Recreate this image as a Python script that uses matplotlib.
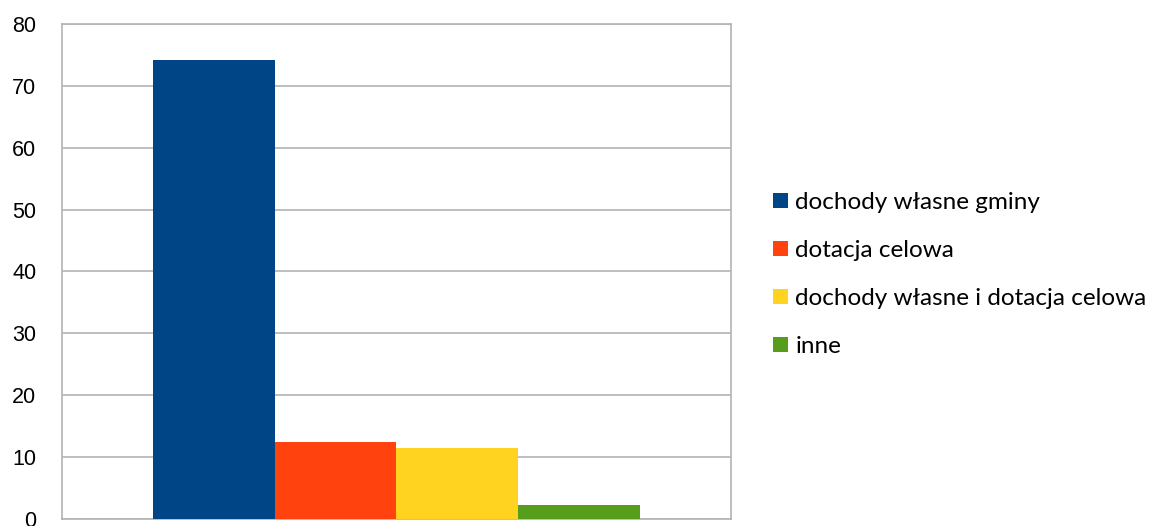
import matplotlib
matplotlib.use("Agg")
import matplotlib.pyplot as plt

# values
labels = ["dochody własne gminy", "dotacja celowa",
          "dochody własne i dotacja celowa", "inne"]
values = [74.2, 12.4, 11.4, 2.2]
colors = ["#004586", "#ff420e", "#ffd320", "#579d1c"]
yticks = [0, 10, 20, 30, 40, 50, 60, 70, 80]

fig = plt.figure(figsize=(11.53, 5.26), dpi=100)
ax = fig.add_axes([62 / 1153, 1 - 518.7 / 526, 669 / 1153, 494.7 / 526])

bar_w = 121.5 / 669
start = 0.5 - 2 * bar_w
bars = []
for i, (lab, val, col) in enumerate(zip(labels, values, colors)):
    b = ax.bar(start + (i + 0.5) * bar_w, val, width=bar_w, color=col,
               label=lab, zorder=3, linewidth=0)
    bars.append(b)

ax.set_xlim(0, 1)
ax.set_ylim(0, 80)
ax.set_yticks(yticks)
ax.set_xticks([])
ax.yaxis.grid(True, color="#b3b3b3", linewidth=1.2, zorder=0)
for s in ax.spines.values():
    s.set_color("#b3b3b3")
    s.set_linewidth(1.2)
ax.tick_params(axis="y", length=0, pad=18.5, labelsize=15.5,
               labelcolor="#000000")
for t in ax.get_yticklabels():
    t.set_fontfamily("Liberation Sans")

fig.legend(handles=bars, labels=labels, loc="center left",
           bbox_to_anchor=(773 / 1153, 1 - 274.5 / 526), frameon=False,
           prop={"family": "Lato", "size": 17.5},
           handlelength=0.62, handleheight=0.62, handletextpad=0.3,
           labelspacing=1.11, borderpad=0, borderaxespad=0)

fig.savefig("out.png", dpi=100)
